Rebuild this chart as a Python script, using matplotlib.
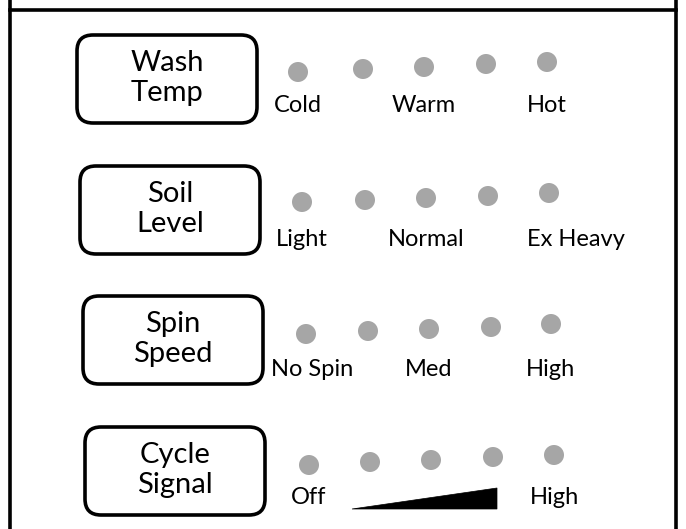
import matplotlib.pyplot as plt
from matplotlib.patches import FancyBboxPatch, Circle, Polygon

plt.rcParams['font.family'] = ['Lato', 'DejaVu Sans']

# button captions and option labels for each row
botones = [("Wash", "Temp"), ("Soil", "Level"), ("Spin", "Speed"), ("Cycle", "Signal")]
etiquetas = [
    [("Cold", 0), ("Warm", 2), ("Hot", 4)],
    [("Light", 0), ("Normal", 2), ("Ex Heavy", 4)],
    [("No Spin", 0), ("Med", 2), ("High", 4)],
    [("Off", 0), ("High", 4)],
]
# panel positions (pixels)
boton_x = [77, 80, 83, 85]
boton_y = [35, 166, 296, 427]
led_x = [
    [298, 363, 424, 486, 547],
    [302, 365, 426, 488, 549],
    [306, 368, 429, 491, 551],
    [309, 370, 431, 493, 554],
]
led_y = [
    [72, 69, 67, 64, 62],
    [202, 200, 198, 196, 193],
    [334, 331, 329, 327, 324],
    [465, 462, 460, 457, 455],
]
etiqueta_y = [106, 239, 369, 498]
etiqueta_dx = {"Ex Heavy": 27, "No Spin": 6}

fig = plt.figure(figsize=(6.86, 5.29), dpi=100)
ax = fig.add_axes([0, 0, 1, 1])
ax.set_xlim(0, 686)
ax.set_ylim(529, 0)
ax.axis("off")

# marco
ax.plot([10, 10], [0, 529], color="black", lw=2.6)
ax.plot([676, 676], [0, 529], color="black", lw=2.6)
ax.plot([10, 676], [10, 10], color="black", lw=2.6)

for i in range(4):
    bx, by = boton_x[i], boton_y[i]
    caja = FancyBboxPatch((bx, by), 180, 88,
                          boxstyle="round,pad=0,rounding_size=16",
                          fc="white", ec="black", lw=2.6)
    ax.add_patch(caja)
    ax.text(bx + 90, by + 28, botones[i][0], ha="center", va="center", fontsize=21)
    ax.text(bx + 90, by + 58, botones[i][1], ha="center", va="center", fontsize=21)

    for x, y in zip(led_x[i], led_y[i]):
        ax.add_patch(Circle((x, y), 10, color="#a6a6a6", lw=0))

    for texto, k in etiquetas[i]:
        dx = etiqueta_dx.get(texto, 0)
        ax.text(led_x[i][k] + dx, etiqueta_y[i], texto, ha="center", va="center",
                fontsize=17)

# cuña del volumen
ax.add_patch(Polygon([[352, 509], [497, 488], [497, 509]], closed=True,
                     fc="black", ec="black", lw=0.5))

fig.savefig("out.png", dpi=100)
